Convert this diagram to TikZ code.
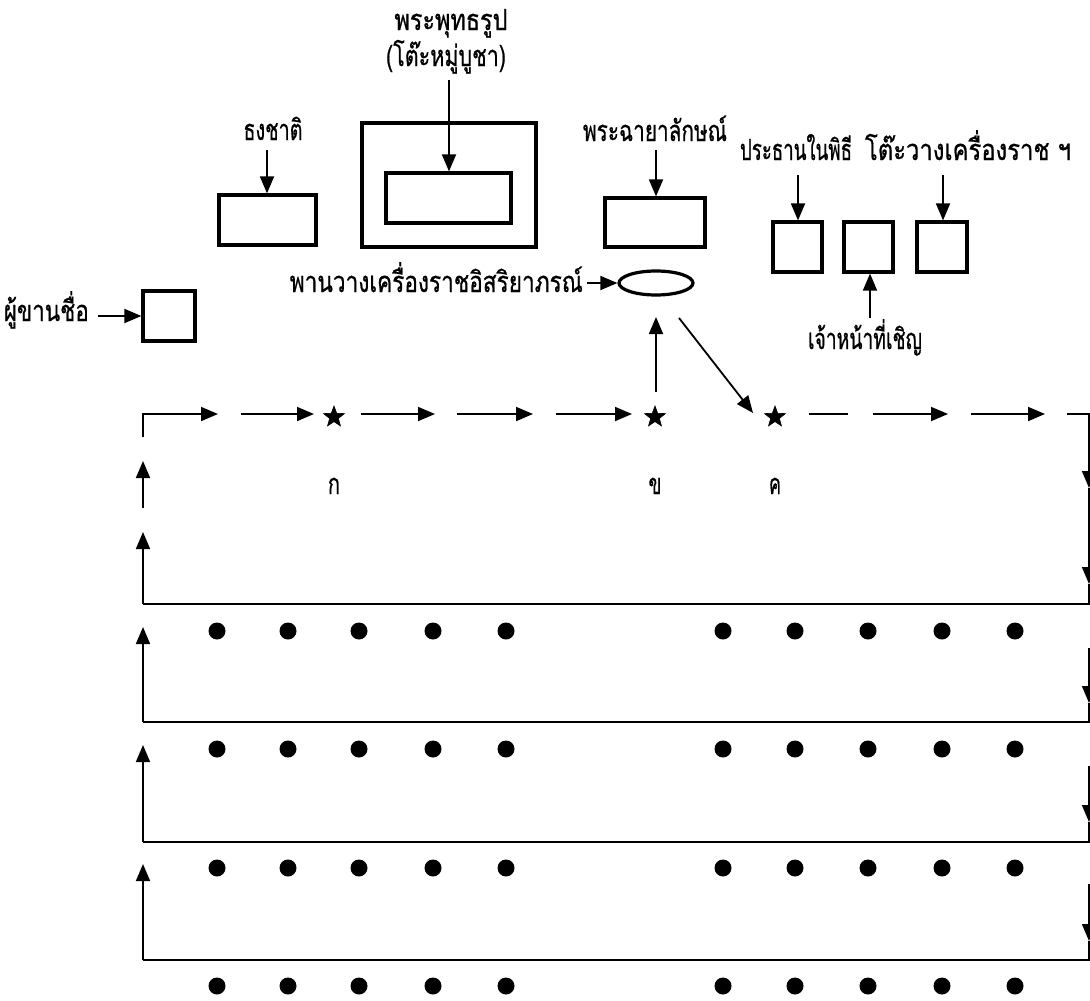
\documentclass[tikz,border=0pt]{standalone}
\usepackage{fontspec}
\usepackage{graphicx}
\newfontfamily\thai[Script=Thai,FakeBold=0.8]{Loma}
\newcommand\thlab[2]{\resizebox{#1}{\height}{#2}}
\usetikzlibrary{arrows.meta,shapes.geometric}
\begin{document}
\begin{tikzpicture}[x=1pt,y=-1pt,
  lbl/.style={font=\thai\fontsize{29}{32}\selectfont,inner sep=0pt,anchor=base},
  box/.style={draw,line width=3.2pt,inner sep=0pt},
  arr/.style={line width=1.8pt,-{Triangle[length=17pt,width=14pt]}},
  plain/.style={line width=1.8pt},
  loopline/.style={line width=2.2pt},
  starnode/.style={star,star points=5,star point ratio=2.4,fill,draw,line width=0.6pt,inner sep=0pt,minimum size=22pt},
  seat/.style={circle,fill,inner sep=0pt,minimum size=17pt}]
\useasboundingbox (0,0) rectangle (1090,1001);
\fill[white] (0,0) rectangle (1090,1001);

% ---------- labels ----------
\node[lbl] (tbuddha) at (451,30) {\thlab{113pt}{พระพุทธรูป}};
\node[lbl] (tbuddhb) at (446,66) {\thlab{120pt}{(โต๊ะหมู่บูชา)}};
\node[lbl] (tflag) at (273,140) {\thlab{59pt}{ธงชาติ}};
\node[lbl] (tport) at (655,141) {\thlab{144pt}{พระฉายาลักษณ์}};
\node[lbl] (tchair) at (796,160) {\thlab{112pt}{ประธานในพิธี}};
\node[lbl] (ttable) at (968,160) {\thlab{206pt}{โต๊ะวางเครื่องราช ฯ}};
\node[lbl,anchor=base east] (ttray) at (583,292) {\thlab{293pt}{พานวางเครื่องราชอิสริยาภรณ์}};
\node[lbl,anchor=base east] (tcall) at (89,321) {\thlab{85pt}{ผู้ขานชื่อ}};
\node[lbl] (toff) at (865,349) {\thlab{114pt}{เจ้าหน้าที่เชิญ}};
\node[lbl] (lka) at (334,494) {\thlab{12pt}{ก}};
\node[lbl] (lkb) at (655,494) {\thlab{13pt}{ข}};
\node[lbl] (lkc) at (775,494) {\thlab{12pt}{ค}};

% ---------- boxes ----------
\node[box,minimum width=97pt,minimum height=50pt] (bflag) at (267.5,220) {};
\node[box,minimum width=174pt,minimum height=124pt] (baltar) at (449,185) {};
\node[box,minimum width=125pt,minimum height=50pt] (bbuddha) at (448.5,198) {};
\node[box,minimum width=100pt,minimum height=49pt] (bport) at (655,222.5) {};
\node[draw,ellipse,line width=3.2pt,minimum width=74pt,minimum height=24pt,inner sep=0pt] (tray) at (656,283) {};
\node[box,minimum width=49pt,minimum height=50pt] (chair) at (797.5,247) {};
\node[box,minimum width=49pt,minimum height=50pt] (offb) at (868.5,247) {};
\node[box,minimum width=50pt,minimum height=50pt] (tableb) at (942,247) {};
\node[box,minimum width=52pt,minimum height=50pt] (callb) at (169,316) {};

% ---------- label arrows ----------
\coordinate (aflag) at (267,150);
\coordinate (abud) at (449,80);
\coordinate (aport) at (656,150);
\coordinate (achair) at (798,175);
\coordinate (atable) at (943,175);
\coordinate (aoff) at (870,318);
\coordinate (atray) at (587,283);
\coordinate (acall) at (98,316);
\draw[arr] (aflag) -- (aflag |- bflag.north);
\draw[arr] (abud) -- (abud |- bbuddha.north);
\draw[arr] (aport) -- (aport |- bport.north);
\draw[arr] (achair) -- (achair |- chair.north);
\draw[arr] (atable) -- (atable |- tableb.north);
\draw[arr] (aoff) -- (aoff |- offb.south);
\draw[arr] (atray) -- (tray.west);
\draw[arr] (acall) -- (callb.west);

% ---------- front row ----------
\node[starnode] (ska) at (334,417) {};
\node[starnode] (skb) at (655,417) {};
\node[starnode] (skc) at (775,417) {};

\coordinate (c0) at (143,437);
\coordinate (c1) at (218,414);
\draw[arr] (c0) |- (c1);
\coordinate (r1a) at (241,414); \coordinate (r1b) at (314,414);
\draw[arr] (r1a) -- (r1b);
\coordinate (r2a) at (361,414); \coordinate (r2b) at (435,414);
\draw[arr] (r2a) -- (r2b);
\coordinate (r3a) at (457,414); \coordinate (r3b) at (533,414);
\draw[arr] (r3a) -- (r3b);
\coordinate (r4a) at (556,414); \coordinate (r4b) at (632,414);
\draw[arr] (r4a) -- (r4b);
\coordinate (r5a) at (809,414); \coordinate (r5b) at (848,414);
\draw[plain] (r5a) -- (r5b);
\coordinate (r6a) at (873,414); \coordinate (r6b) at (948,414);
\draw[arr] (r6a) -- (r6b);
\coordinate (r7a) at (971,414); \coordinate (r7b) at (1045,414);
\draw[arr] (r7a) -- (r7b);
\coordinate (r8a) at (1067,414); \coordinate (r8b) at (1090,414);
\draw[plain] (r8a) -- (r8b);

% up to tray and diagonal
\coordinate (up0) at (656,392);
\coordinate (up1) at (656,317);
\draw[arr] (up0) -- (up1);
\coordinate (dg0) at (679,318);
\coordinate (dg1) at (753,413);
\draw[arr] (dg0) -- (dg1);

% ---------- loop 1 ----------
\coordinate (R0) at (1089,414);
\coordinate (R1) at (1089,488);
\coordinate (R2) at (1089,584);
\coordinate (B1r) at (1089,604);
\coordinate (B1l) at (143,604);
\draw[arr] (R0) -- (R1);
\draw[arr] (R1) -- (R2);
\draw[loopline] (R2) -- (B1r) -- (B1l);
\coordinate (L1) at (143,532);
\draw[arr] (B1l) -- (L1);
\coordinate (L2a) at (143,508);
\coordinate (L2b) at (143,461);
\draw[arr] (L2a) -- (L2b);

% ---------- loops 2-4 ----------
\foreach \n/\top/\bot/\tip/\up in {2/648/722/703/627, 3/766/842/822/745, 4/884/960/941/864}{
  \coordinate (Rt\n) at (1089,\top);
  \coordinate (Rh\n) at (1089,\tip);
  \coordinate (Br\n) at (1089,\bot);
  \coordinate (Bl\n) at (143,\bot);
  \coordinate (Lu\n) at (143,\up);
  \draw[arr] (Rt\n) -- (Rh\n);
  \draw[loopline] (Rh\n) -- (Br\n) -- (Bl\n);
  \draw[arr] (Bl\n) -- (Lu\n);
}

% ---------- seats ----------
\foreach \r/\y in {1/631,2/749,3/868,4/986}{
  \foreach \i/\x in {1/217,2/288,3/359,4/433,5/506,6/723,7/795,8/868,9/942,10/1015}{
    \node[seat] (p\r-\i) at (\x,\y) {};
  }
}
\end{tikzpicture}
\end{document}
